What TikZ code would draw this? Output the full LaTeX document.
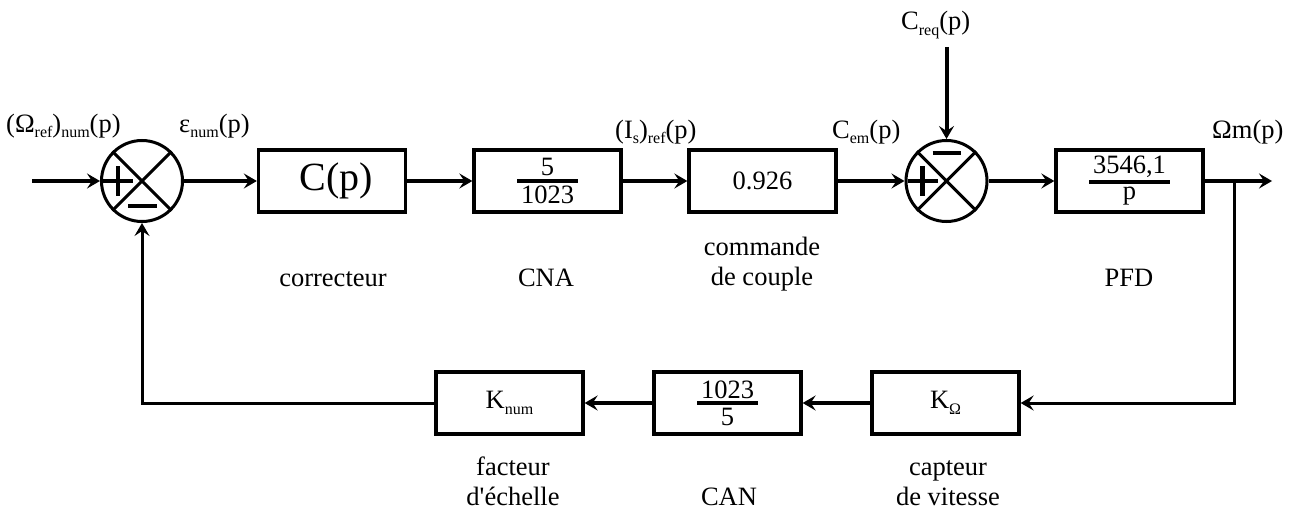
\documentclass[tikz,border=0pt]{standalone}
\usepackage{fontspec}
\setmainfont{Liberation Serif}
\usetikzlibrary{arrows.meta}
\newcommand\sbx[1]{\raisebox{-0.22em}{\fontsize{16}{16}\selectfont #1}}
\newcommand\myfr[2]{\vbox{\offinterlineskip\halign{\hfil\hskip4pt##\hskip4pt\hfil\cr #1\cr\noalign{\kern2.5pt\hrule height 4pt\kern3pt}#2\cr}}}
\begin{document}
\begin{tikzpicture}[x=1pt,y=-1pt,line join=miter,
  every node/.style={font=\fontsize{26.5}{29.5}\selectfont, inner sep=0pt},
  blk/.style={draw, line width=3.3pt, minimum width=147pt, minimum height=62pt},
  sumc/.style={draw, circle, line width=3pt, minimum size=81pt},
  tipa/.style={-{Stealth[length=13pt,width=15pt,inset=5pt]}},
  sig/.style={line width=4pt, tipa},
  fb/.style={line width=3pt},
  pm/.style={line width=4.5pt},
  lbl/.style={anchor=base west},
  captxt/.style={anchor=base, align=center}]
\useasboundingbox (0,0) rectangle (1297,511);
% forward path
\node[sumc] (s1) at (142,181) {};
\node[blk] (b1) at (332,181) {\hspace{8pt}\fontsize{40}{42}\selectfont C(p)};
\node[blk] (b2) at (547.5,181) {\myfr{5}{1023}};
\node[blk] (b3) at (762.5,181) {0.926};
\node[sumc] (s2) at (946.5,181) {};
\node[blk] (b4) at (1129.5,181) {\myfr{3546,1}{p}};
% feedback path
\node[blk] (k1) at (945.5,403) {K\sbx{Ω}};
\node[blk] (k2) at (727.5,403) {\myfr{1023}{5}};
\node[blk] (k3) at (509.5,403) {K\sbx{num}};
% crosses and signs
\foreach \s in {s1,s2}{
  \draw[line width=3pt] (\s.north west) -- (\s.south east) (\s.north east) -- (\s.south west);
  \draw[pm] ([shift={(-39,0)}]\s.center) -- ([shift={(-9,0)}]\s.center);
  \draw[pm] ([shift={(-24,-15)}]\s.center) -- ([shift={(-24,15)}]\s.center);
}
\draw[pm] ([shift={(-14,25)}]s1.center) -- ([shift={(15,25)}]s1.center);
\draw[pm] ([shift={(-14,-28)}]s2.center) -- ([shift={(14,-28)}]s2.center);
% coordinates
\coordinate (in) at (32,181);
\coordinate (out) at (1272,181);
\coordinate (br) at (1234,181);
\coordinate (brd) at (1234,403);
\coordinate (cr) at (946.5,47);
\coordinate (fl) at (142,403);
% connectors
\draw[sig] (in) -- (s1.west);
\draw[sig] (s1.east) -- (b1.west);
\draw[sig] (b1.east) -- (b2.west);
\draw[sig] (b2.east) -- (b3.west);
\draw[sig] (b3.east) -- (s2.west);
\draw[sig] (s2.east) -- (b4.west);
\draw[sig] (b4.east) -- (out);
\draw[sig] (cr) -- (s2.north);
\draw[fb,tipa] (br) -- (brd) -- (k1.east);
\draw[sig] (k1.west) -- (k2.east);
\draw[sig] (k2.west) -- (k3.east);
\draw[fb,tipa] (k3.west) -- (fl) -- (s1.south);
% signal labels
\node[lbl] (l1) at (6,132) {(Ω\sbx{ref})\sbx{num}(p)};
\node[lbl] (l2) at (179,132) {ε\sbx{num}(p)};
\node[lbl] (l3) at (615,138) {(I\sbx{s})\sbx{ref}(p)};
\node[lbl] (l4) at (832,138) {C\sbx{em}(p)};
\node[lbl] (l5) at (1212,138) {Ωm(p)};
\node[lbl] (l6) at (901,30) {C\sbx{req}(p)};
% block captions
\node[captxt] (c1) at (333,286) {correcteur};
\node[captxt] (c2) at (546,286) {CNA};
\node[captxt] (c3) at (762,285) {commande\\de couple};
\node[captxt] (c4) at (1129,286) {PFD};
\node[captxt] (c5) at (513,505) {facteur\\d\textquotesingle échelle};
\node[captxt] (c6) at (729,505) {CAN};
\node[captxt] (c7) at (948,505) {capteur\\de vitesse};
\end{tikzpicture}
\end{document}
